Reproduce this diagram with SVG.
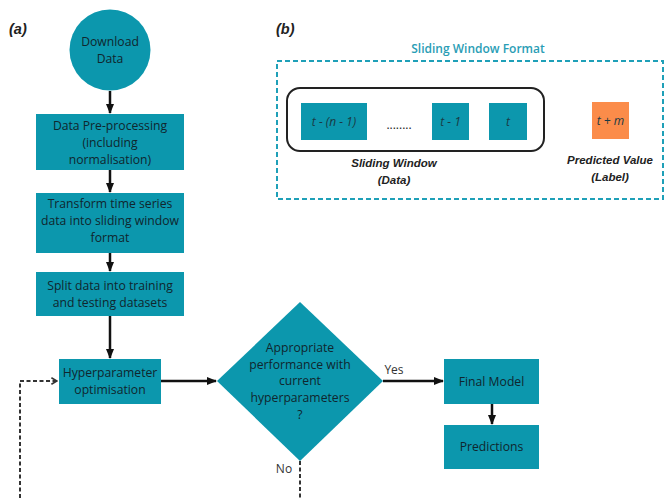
<svg xmlns="http://www.w3.org/2000/svg" width="665" height="498" viewBox="0 0 665 498">
<defs>
<marker id="ah" viewBox="0 0 10 10" refX="9" refY="5" markerWidth="4" markerHeight="4" orient="auto" markerUnits="strokeWidth">
<path d="M0,1 L10,5 L0,9 z" fill="#111"/>
</marker>
<marker id="oh" viewBox="0 0 10 10" refX="9" refY="5" markerWidth="4" markerHeight="4" orient="auto" markerUnits="strokeWidth">
<path d="M2,1 L9,5 L2,9" fill="none" stroke="#333" stroke-width="2"/>
</marker>
<style>
.n{fill:#0c97ad}
.t{font-family:"Open Sans","Noto Sans",sans-serif;font-size:12.2px;fill:#10262e;text-anchor:middle}
.lbl{font-family:"Open Sans","Noto Sans",sans-serif;font-size:12px;fill:#333;text-anchor:middle}
.c{stroke:#111;stroke-width:2.5;fill:none;marker-end:url(#ah)}
.d{stroke:#333;stroke-width:2;fill:none;stroke-dasharray:4 2.5}
.bi{font-family:"Liberation Sans",Arial,sans-serif;font-size:11.5px;font-weight:bold;font-style:italic;fill:#222;text-anchor:middle}
.sq{font-family:"Open Sans","Noto Sans",sans-serif;font-size:12px;font-style:italic;fill:#1a3a44;text-anchor:middle}
.pl{font-family:"Liberation Sans",Arial,sans-serif;font-size:14.5px;font-weight:bold;font-style:italic;fill:#222}
</style>
</defs>
<rect width="665" height="498" fill="#fff"/>

<text class="pl" x="9" y="34">(a)</text>
<text class="pl" x="276" y="34">(b)</text>

<g id="connectors">
<line class="c" x1="110" y1="91" x2="110" y2="113"/>
<line class="c" x1="110" y1="170" x2="110" y2="192"/>
<line class="c" x1="110" y1="253" x2="110" y2="271"/>
<line class="c" x1="110" y1="316" x2="110" y2="358"/>
<line class="c" x1="161" y1="381" x2="216" y2="381"/>
<line class="c" x1="383" y1="381" x2="443" y2="381"/>
<line class="c" x1="492" y1="404" x2="492" y2="424"/>
<polyline class="d" points="20,498 20,381 57,381" marker-end="url(#oh)"/>
<line class="d" x1="300" y1="461" x2="300" y2="498"/>
<text class="lbl" x="394" y="374">Yes</text>
<text class="lbl" x="284" y="473">No</text>
</g>

<g id="download">
<circle class="n" cx="110" cy="50" r="40.5"/>
<text class="t" x="110" y="46">Download</text>
<text class="t" x="110" y="63">Data</text>
</g>

<g id="preprocess">
<rect class="n" x="36" y="114" width="148" height="56"/>
<text class="t" x="110" y="130">Data Pre-processing</text>
<text class="t" x="110" y="147">(including</text>
<text class="t" x="110" y="163.5">normalisation)</text>
</g>

<g id="transform">
<rect class="n" x="36" y="193" width="148" height="60"/>
<text class="t" x="110" y="208">Transform time series</text>
<text class="t" x="110" y="225">data into sliding window</text>
<text class="t" x="110" y="242">format</text>
</g>

<g id="split">
<rect class="n" x="36" y="272" width="148" height="44"/>
<text class="t" x="110" y="290">Split data into training</text>
<text class="t" x="110" y="307">and testing datasets</text>
</g>

<g id="hyper">
<rect class="n" x="59" y="359" width="102" height="45"/>
<text class="t" x="110" y="377">Hyperparameter</text>
<text class="t" x="110" y="394">optimisation</text>
</g>

<g id="decision">
<polygon class="n" points="300,302 383,381 300,461 217,381"/>
<text class="t" x="300" y="352">Appropriate</text>
<text class="t" x="300" y="368.5">performance with</text>
<text class="t" x="300" y="385">current</text>
<text class="t" x="300" y="402">hyperparameters</text>
<text class="t" x="300" y="419">?</text>
</g>

<g id="final">
<rect class="n" x="444" y="359" width="95" height="45"/>
<text class="t" x="491.5" y="386">Final Model</text>
</g>

<g id="predictions">
<rect class="n" x="444" y="425" width="95" height="44"/>
<text class="t" x="491.5" y="451">Predictions</text>
</g>

<g id="sliding-format">
<text x="478" y="53" font-family="'Open Sans','Noto Sans',sans-serif" font-size="12px" font-weight="600" fill="#2a9db5" text-anchor="middle">Sliding Window Format</text>
<rect x="277" y="61" width="386" height="138" fill="none" stroke="#1fa0b8" stroke-width="2" stroke-dasharray="5 3"/>
</g>

<g id="window">
<rect x="287" y="88" width="257" height="63" rx="13" fill="none" stroke="#222" stroke-width="2"/>
<text class="bi" x="394" y="167">Sliding Window</text>
<text class="bi" x="394" y="184">(Data)</text>
</g>

<g id="t-n1">
<rect class="n" x="301" y="103" width="66" height="37"/>
<text class="sq" x="334" y="125.5">t - (n - 1)</text>
</g>
<g id="dots">
<text x="399" y="129" font-family="'Open Sans',sans-serif" font-size="12px" fill="#222" text-anchor="middle">........</text>
</g>
<g id="t-1">
<rect class="n" x="432" y="103" width="37" height="37"/>
<text class="sq" x="450.5" y="125.5">t - 1</text>
</g>
<g id="t">
<rect class="n" x="489" y="103" width="38" height="37"/>
<text class="sq" x="508" y="125.5">t</text>
</g>
<g id="tm">
<rect x="592" y="102" width="37" height="37" fill="#fb8c4a"/>
<text class="sq" x="610.5" y="124.5">t + m</text>
<text class="bi" x="610" y="164">Predicted Value</text>
<text class="bi" x="610" y="181">(Label)</text>
</g>
</svg>
